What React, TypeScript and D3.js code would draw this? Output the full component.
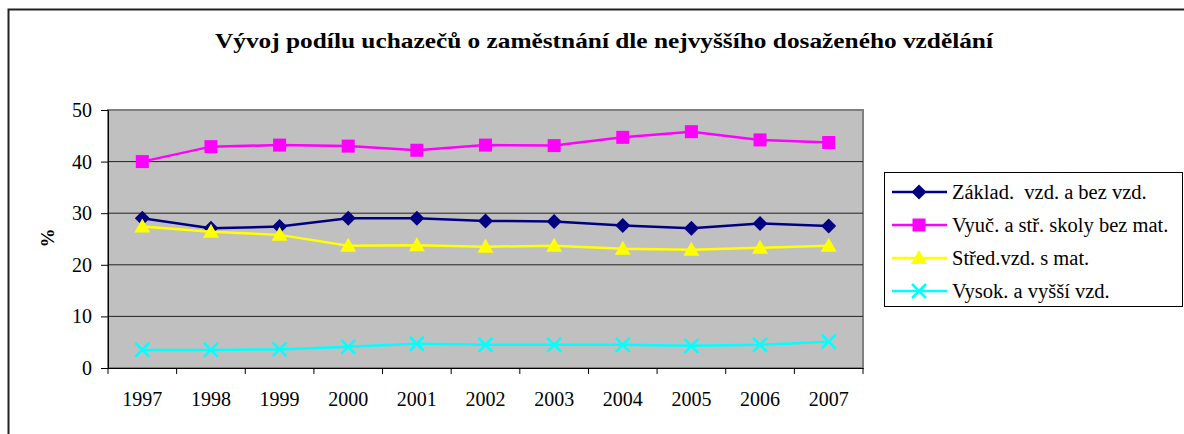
import { useEffect, useRef } from 'react';
import * as d3 from 'd3';

const years = ['1997', '1998', '1999', '2000', '2001', '2002', '2003', '2004', '2005', '2006', '2007'];
const zaklad = [29.0, 27.1, 27.4, 29.0, 29.0, 28.5, 28.4, 27.6, 27.1, 28.0, 27.5];
const vyucen = [40.0, 42.9, 43.2, 43.0, 42.2, 43.2, 43.1, 44.7, 45.8, 44.2, 43.7];
const stredni = [27.4, 26.4, 25.8, 23.7, 23.8, 23.5, 23.7, 23.1, 22.9, 23.3, 23.7];
const vysoke = [3.5, 3.5, 3.6, 4.1, 4.7, 4.5, 4.5, 4.5, 4.3, 4.5, 5.1];
const yTicks = [0, 10, 20, 30, 40, 50];

const seriesNames = [
  'Základ.  vzd. a bez vzd.',
  'Vyuč. a stř. skoly bez mat.',
  'Střed.vzd. s mat.',
  'Vysok. a vyšší vzd.',
];

type Marker = 'diamond' | 'square' | 'triangle' | 'cross';

const series: { name: string; values: number[]; color: string; marker: Marker }[] = [
  { name: seriesNames[0], values: zaklad, color: '#000080', marker: 'diamond' },
  { name: seriesNames[1], values: vyucen, color: '#FF00FF', marker: 'square' },
  { name: seriesNames[2], values: stredni, color: '#FFFF00', marker: 'triangle' },
  { name: seriesNames[3], values: vysoke, color: '#00FFFF', marker: 'cross' },
];

const FONT = "'Liberation Serif', Tinos, 'Times New Roman', 'DejaVu Serif', serif";

function drawMarker(g: d3.Selection<SVGGElement, unknown, null, undefined>, kind: Marker, color: string) {
  if (kind === 'diamond') {
    g.append('path').attr('d', 'M0,-7.5L7.5,0L0,7.5L-7.5,0Z').attr('fill', color);
  } else if (kind === 'square') {
    g.append('rect').attr('x', -6.5).attr('y', -6.5).attr('width', 13).attr('height', 13).attr('fill', color);
  } else if (kind === 'triangle') {
    g.append('path').attr('d', 'M0,-8L8,6L-8,6Z').attr('fill', color);
  } else {
    g.append('path').attr('d', 'M-7,-7L7,7M-7,7L7,-7')
      .attr('stroke', color).attr('stroke-width', 2.5).attr('fill', 'none');
  }
}

export default function App() {
  const svgRef = useRef<SVGSVGElement>(null);

  useEffect(() => {
    if (!svgRef.current) return;
    const svg = d3.select(svgRef.current);
    svg.selectAll('*').remove();

    const left = 108, right = 863, top = 110, bottom = 368;

    const x = d3.scaleBand<string>().domain(years).range([left, right]).padding(0);
    const y = d3.scaleLinear().domain([0, 50]).range([bottom, top]);
    const cx = (yr: string) => (x(yr) ?? 0) + x.bandwidth() / 2;

    // outer chart frame
    svg.append('rect')
      .attr('x', 8.5).attr('y', 9.5).attr('width', 1190).attr('height', 440)
      .attr('fill', 'white').attr('stroke', '#222').attr('stroke-width', 2);

    // title
    svg.append('text')
      .attr('x', 215).attr('y', 48)
      .attr('textLength', 778).attr('lengthAdjust', 'spacingAndGlyphs')
      .style('font-family', FONT).style('font-weight', 'bold').style('font-size', '22px')
      .text('Vývoj podílu uchazečů o zaměstnání dle nejvyššího dosaženého vzdělání');

    // plot area
    svg.append('rect')
      .attr('x', left).attr('y', top).attr('width', right - left).attr('height', bottom - top)
      .attr('fill', '#C0C0C0').attr('stroke', '#808080').attr('stroke-width', 2);

    // gridlines
    svg.append('g').selectAll('line')
      .data(yTicks.filter(t => t > 0 && t < 50))
      .join('line')
      .attr('x1', left).attr('x2', right)
      .attr('y1', d => y(d)).attr('y2', d => y(d))
      .attr('stroke', '#222').attr('stroke-width', 1);

    // y axis
    const yAxis = svg.append('g')
      .attr('transform', `translate(${left},0)`)
      .call(d3.axisLeft(y).tickValues(yTicks).tickSize(7).tickPadding(9).tickFormat(d3.format('d')));
    yAxis.select('.domain').attr('stroke', '#000');
    yAxis.selectAll('line').attr('stroke', '#000');
    yAxis.selectAll('text').style('font-family', FONT).style('font-size', '20px').attr('fill', '#000');

    // x axis
    const xAxis = svg.append('g')
      .attr('transform', `translate(0,${bottom})`)
      .call(d3.axisBottom(x).tickSize(0).tickPadding(24));
    xAxis.select('.domain').attr('stroke', '#000');
    xAxis.selectAll('text').style('font-family', FONT).style('font-size', '20px').attr('fill', '#000');
    // tick marks at category boundaries
    const bounds = years.map(yr => x(yr) ?? 0).concat([right]);
    svg.append('g').selectAll('line')
      .data(bounds)
      .join('line')
      .attr('x1', d => d).attr('x2', d => d)
      .attr('y1', bottom).attr('y2', bottom + 6)
      .attr('stroke', '#000');

    // y axis title
    svg.append('text')
      .attr('transform', 'translate(54,238) rotate(-90)')
      .attr('text-anchor', 'middle')
      .style('font-family', FONT).style('font-weight', 'bold').style('font-size', '19px')
      .text('%');

    // series
    const line = d3.line<number>()
      .x((_, i) => cx(years[i]))
      .y(d => y(d));

    series.forEach(s => {
      svg.append('path')
        .attr('d', line(s.values) ?? '')
        .attr('fill', 'none').attr('stroke', s.color).attr('stroke-width', 2.5);
      s.values.forEach((v, i) => {
        const g = svg.append('g').attr('transform', `translate(${cx(years[i])},${y(v)})`);
        drawMarker(g, s.marker, s.color);
      });
    });

    // legend
    svg.append('rect')
      .attr('x', 884.5).attr('y', 172.5).attr('width', 298).attr('height', 134)
      .attr('fill', 'white').attr('stroke', '#000').attr('stroke-width', 1);
    const legendY = d3.scalePoint<string>().domain(seriesNames).range([192, 291]);
    series.forEach(s => {
      const ly = legendY(s.name) ?? 0;
      svg.append('line')
        .attr('x1', 892).attr('x2', 947).attr('y1', ly).attr('y2', ly)
        .attr('stroke', s.color).attr('stroke-width', 2.5);
      const g = svg.append('g').attr('transform', `translate(919,${ly})`);
      drawMarker(g, s.marker, s.color);
      svg.append('text')
        .attr('x', 952).attr('y', ly).attr('dy', '0.35em')
        .style('font-family', FONT).style('font-size', '20.5px').style('white-space', 'pre')
        .text(s.name);
    });
  }, []);

  return (
    <svg
      ref={svgRef}
      width={1184}
      height={434}
      style={{ position: 'absolute', left: 0, top: 0, background: 'white' }}
    />
  );
}
